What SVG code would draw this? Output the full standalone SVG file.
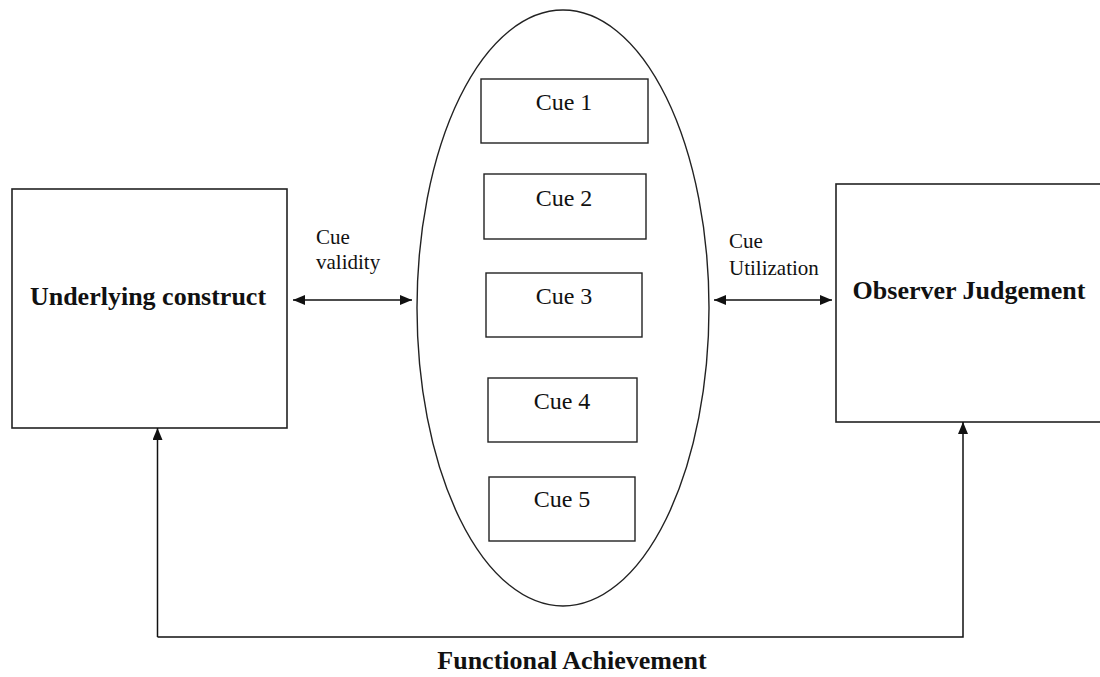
<svg xmlns="http://www.w3.org/2000/svg" width="1100" height="677" viewBox="0 0 1100 677">
<style>
.box{fill:#fff;stroke:#222;stroke-width:1.6}
.cue{fill:#fff;stroke:#222;stroke-width:1.4}
.ell{fill:none;stroke:#222;stroke-width:1.4}
.con{fill:none;stroke:#111;stroke-width:1.5}
.t{font-family:"Liberation Serif","Times New Roman",serif;fill:#111}
.b{font-weight:bold;font-size:26px}
.c{font-size:24px}
.s{font-size:21px}
</style>
<defs>
<marker id="ah" viewBox="0 0 12 10" refX="12" refY="5" markerWidth="12" markerHeight="10" markerUnits="userSpaceOnUse" orient="auto-start-reverse">
<path d="M0,0 L12,5 L0,10 Z" fill="#111"/>
</marker>
</defs>
<rect width="1100" height="677" fill="#fff"/>
<g id="underlying">
<rect class="box" x="12" y="189" width="275" height="239"/>
<text class="t b" x="148" y="305" text-anchor="middle">Underlying construct</text>
</g>
<g id="observer">
<rect class="box" x="836" y="184" width="270" height="238"/>
<text class="t b" x="969" y="299" text-anchor="middle">Observer Judgement</text>
</g>
<g id="cues">
<ellipse class="ell" cx="563" cy="308" rx="146" ry="298"/>
</g>
<g id="cue1"><rect class="cue" x="481" y="79" width="167" height="64"/><text class="t c" x="564" y="110" text-anchor="middle">Cue 1</text></g>
<g id="cue2"><rect class="cue" x="484" y="174" width="162" height="65"/><text class="t c" x="564" y="206" text-anchor="middle">Cue 2</text></g>
<g id="cue3"><rect class="cue" x="486" y="273" width="156" height="64"/><text class="t c" x="564" y="304" text-anchor="middle">Cue 3</text></g>
<g id="cue4"><rect class="cue" x="488" y="378" width="149" height="64"/><text class="t c" x="562" y="409" text-anchor="middle">Cue 4</text></g>
<g id="cue5"><rect class="cue" x="489" y="477" width="146" height="64"/><text class="t c" x="562" y="507" text-anchor="middle">Cue 5</text></g>
<g id="connectors">
<line class="con" x1="293" y1="300" x2="412" y2="300" marker-start="url(#ah)" marker-end="url(#ah)"/>
<line class="con" x1="714" y1="300" x2="832" y2="300" marker-start="url(#ah)" marker-end="url(#ah)"/>
<polyline class="con" points="157.5,637 157.5,428"  marker-end="url(#ah)"/>
<polyline class="con" points="157.5,637 963,637 963,422" marker-end="url(#ah)"/>
</g>
<g id="labels">
<text class="t s" x="316" y="244">Cue</text>
<text class="t s" x="316" y="269">validity</text>
<text class="t s" x="729" y="248">Cue</text>
<text class="t s" x="729" y="275">Utilization</text>
<text class="t b" x="572" y="669" text-anchor="middle" font-size="25">Functional Achievement</text>
</g>
</svg>
